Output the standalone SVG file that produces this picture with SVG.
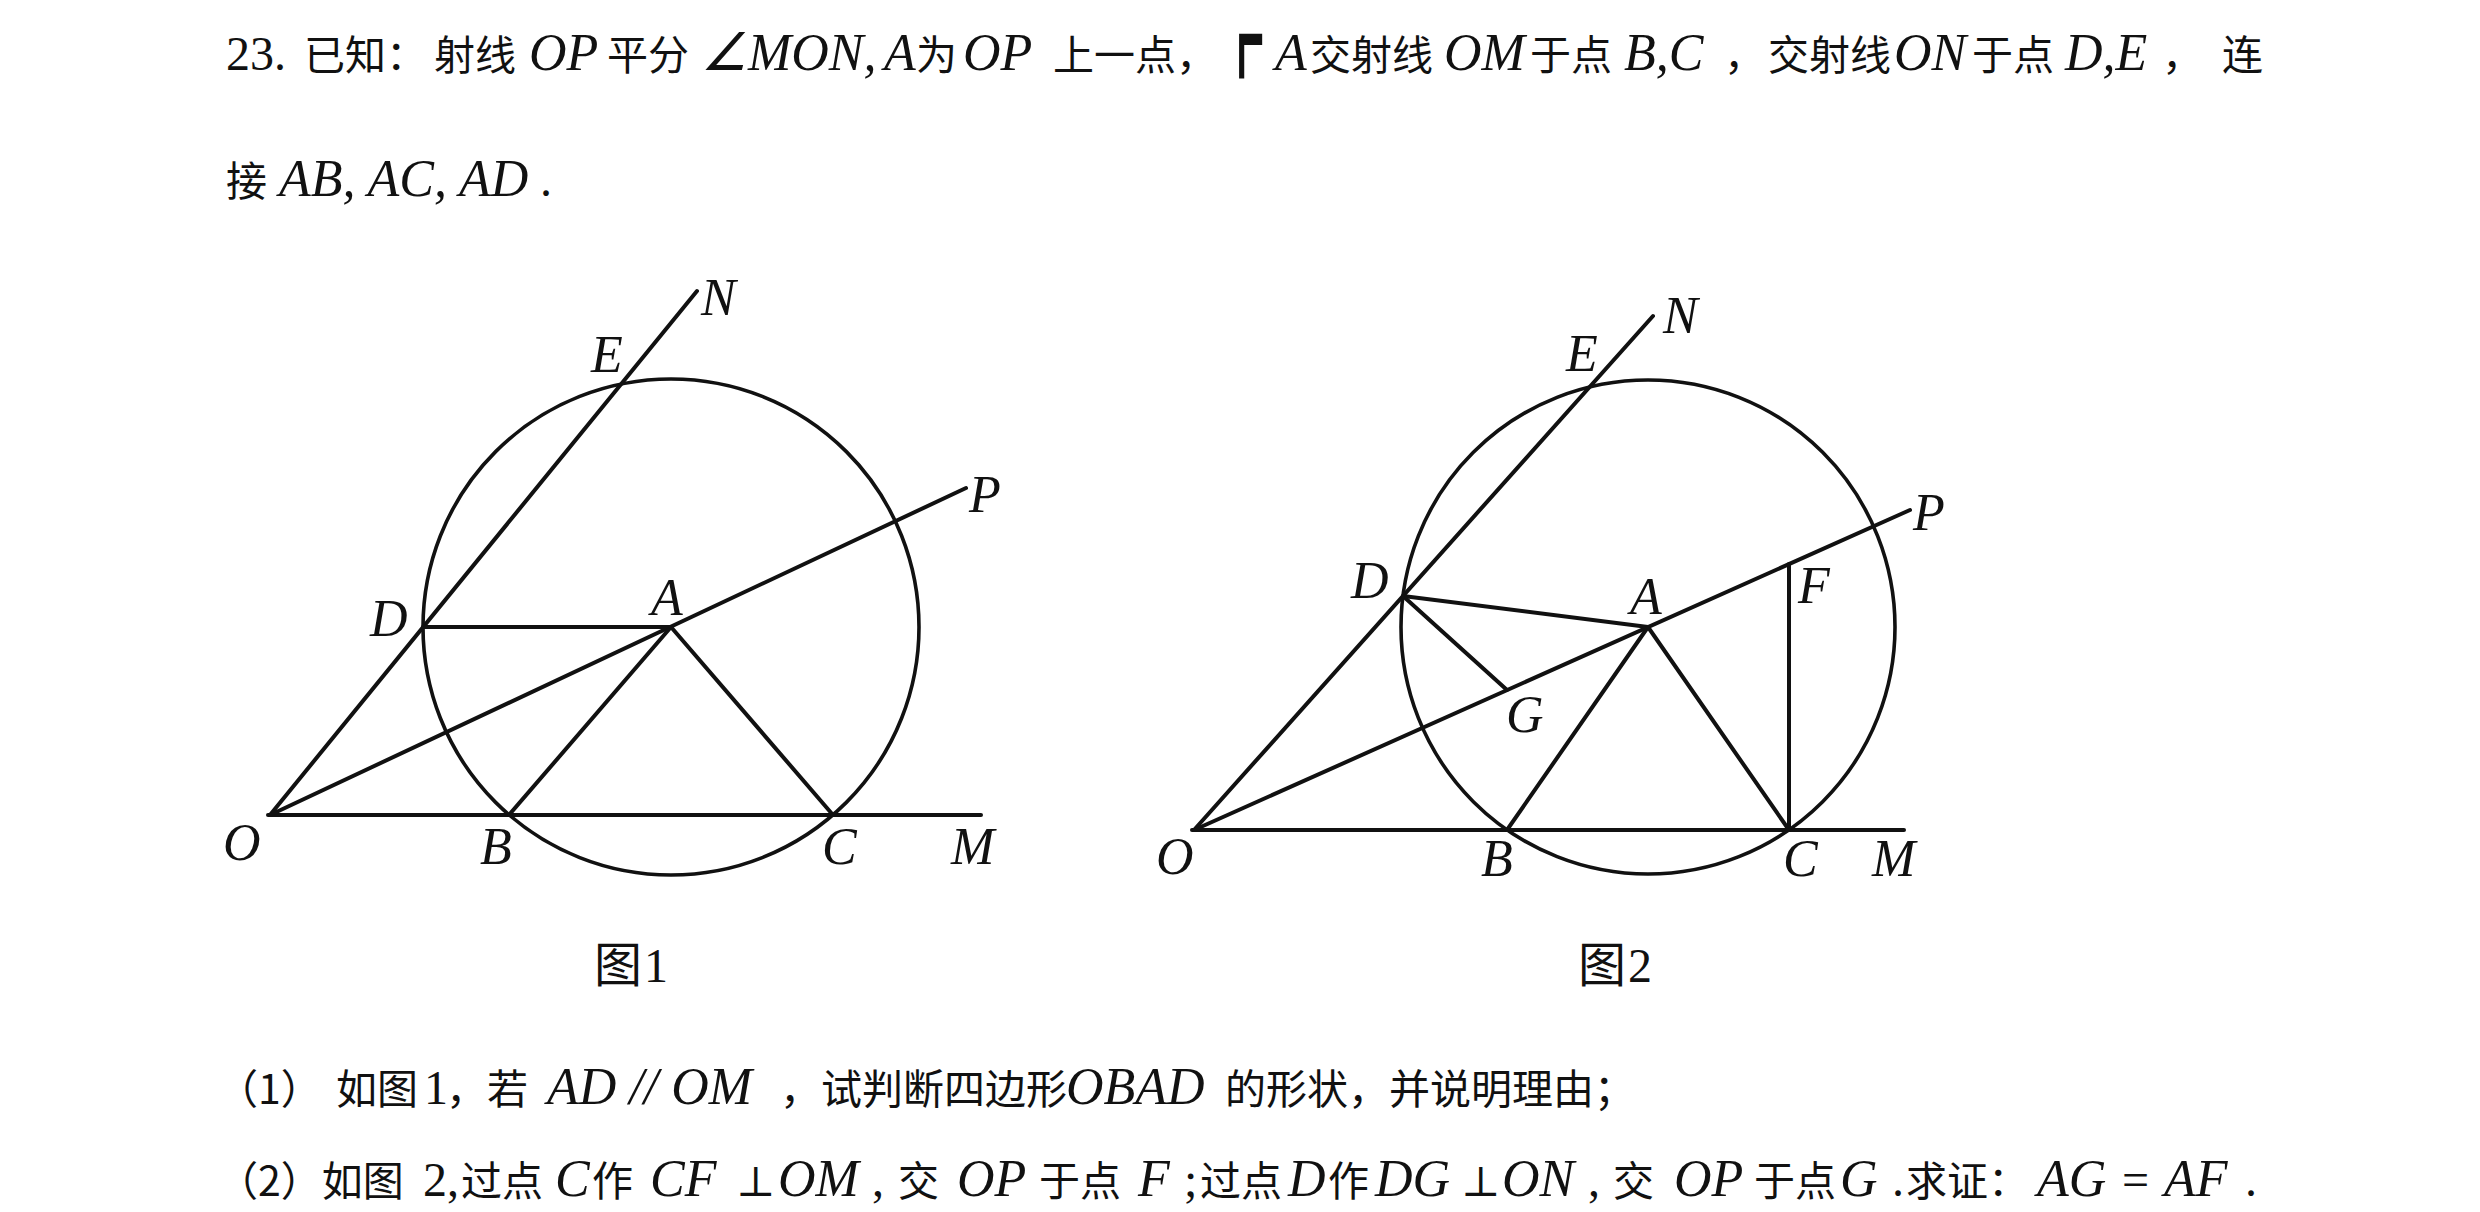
<svg xmlns="http://www.w3.org/2000/svg" width="2480" height="1212" viewBox="0 0 2480 1212">
<style>
.cj{font-family:"Noto Sans CJK SC","Noto Sans CJK JP",sans-serif;font-size:41px;fill:#111}
.cap{font-family:"Noto Sans CJK SC",sans-serif;font-size:48px;fill:#111}
.it{font-family:"Liberation Serif",serif;font-style:italic;font-size:52px;fill:#111}
.rm{font-family:"Liberation Serif",serif;font-size:48px;fill:#111}
.pp{font-family:"DejaVu Serif",serif;font-size:42px;fill:#111}
.lb{font-family:"Liberation Serif",serif;font-style:italic;font-size:52px;fill:#111}
.bx{font-family:"DejaVu Sans Mono",monospace;font-size:66px;fill:#111}
.ln{stroke:#111;stroke-width:4;fill:none;stroke-linecap:round}
.cr{stroke:#111;stroke-width:3.6;fill:none}
</style>
<rect width="2480" height="1212" fill="#fff"/>

<g id="question">
<text class="rm" x="226" y="70">23.</text>
<text class="cj" x="304" y="70">已知：</text>
<text class="cj" x="434" y="70">射线</text>
<text class="it" x="529" y="70">OP</text>
<text class="cj" x="607" y="70">平分</text>
<text class="it" x="701" y="70">∠MON,</text>
<text class="it" x="884" y="70">A</text>
<text class="cj" x="916" y="70">为</text>
<text class="it" x="963" y="70">OP</text>
<text class="cj" x="1053" y="70">上一点，</text>
<text class="bx" x="1222" y="62">┍</text>
<text class="it" x="1275" y="70">A</text>
<text class="cj" x="1310" y="70">交射线</text>
<text class="it" x="1444" y="70">OM</text>
<text class="cj" x="1530" y="70">于点</text>
<text class="it" x="1624" y="70">B,C</text>
<text class="cj" x="1724" y="70">，</text>
<text class="cj" x="1768" y="70">交射线</text>
<text class="it" x="1894" y="70">ON</text>
<text class="cj" x="1972" y="70">于点</text>
<text class="it" x="2065" y="70">D,E</text>
<text class="cj" x="2162" y="70">，</text>
<text class="cj" x="2222" y="70">连</text>
<text class="cj" x="226" y="196">接</text>
<text class="it" x="279" y="196">AB, AC, AD</text>
<text class="rm" x="540" y="196">.</text>
</g>

<g id="connectors" transform="translate(0,-2)">
<g id="fig1-lines">
<line class="ln" x1="268" y1="817" x2="981" y2="817"/>
<line class="ln" x1="270" y1="817" x2="697" y2="293"/>
<line class="ln" x1="270" y1="817" x2="966" y2="490"/>
<line class="ln" x1="423" y1="629" x2="671" y2="629"/>
<line class="ln" x1="671" y1="629" x2="509" y2="817"/>
<line class="ln" x1="671" y1="629" x2="833" y2="817"/>
</g>
<g id="fig2-lines">
<line class="ln" x1="1192" y1="832" x2="1904" y2="832"/>
<line class="ln" x1="1194" y1="832" x2="1653" y2="318"/>
<line class="ln" x1="1194" y1="832" x2="1910" y2="512"/>
<line class="ln" x1="1403" y1="598" x2="1648" y2="629"/>
<line class="ln" x1="1403" y1="598" x2="1507" y2="692"/>
<line class="ln" x1="1648" y1="629" x2="1507" y2="832"/>
<line class="ln" x1="1648" y1="629" x2="1789" y2="832"/>
<line class="ln" x1="1789" y1="832" x2="1789" y2="566"/>
</g>
</g>

<g id="circle1" transform="translate(0,-2)"><circle class="cr" cx="671" cy="629" r="248"/></g>
<g id="circle2" transform="translate(0,-2)"><circle class="cr" cx="1648" cy="629" r="247"/></g>

<g id="fig1-labels" transform="translate(0,-2)">
<g id="f1-N"><text class="lb" x="701" y="317">N</text></g>
<g id="f1-E"><text class="lb" x="591" y="374">E</text></g>
<g id="f1-P"><text class="lb" x="969" y="514">P</text></g>
<g id="f1-A"><text class="lb" x="651" y="617">A</text></g>
<g id="f1-D"><text class="lb" x="370" y="638">D</text></g>
<g id="f1-O"><text class="lb" x="223" y="862">O</text></g>
<g id="f1-B"><text class="lb" x="480" y="866">B</text></g>
<g id="f1-C"><text class="lb" x="822" y="866">C</text></g>
<g id="f1-M"><text class="lb" x="951" y="866">M</text></g>
</g>

<g id="fig2-labels" transform="translate(0,-2)">
<g id="f2-N"><text class="lb" x="1663" y="335">N</text></g>
<g id="f2-E"><text class="lb" x="1566" y="373">E</text></g>
<g id="f2-P"><text class="lb" x="1913" y="532">P</text></g>
<g id="f2-F"><text class="lb" x="1798" y="605">F</text></g>
<g id="f2-D"><text class="lb" x="1351" y="600">D</text></g>
<g id="f2-A"><text class="lb" x="1630" y="616">A</text></g>
<g id="f2-G"><text class="lb" x="1506" y="734">G</text></g>
<g id="f2-O"><text class="lb" x="1156" y="876">O</text></g>
<g id="f2-B"><text class="lb" x="1481" y="878">B</text></g>
<g id="f2-C"><text class="lb" x="1783" y="878">C</text></g>
<g id="f2-M"><text class="lb" x="1872" y="878">M</text></g>
</g>

<g id="captions">
<text class="cap" x="594" y="982">图</text><text class="rm" x="644" y="982">1</text>
<text class="cap" x="1578" y="982">图</text><text class="rm" x="1628" y="982">2</text>
</g>

<g id="part1">
<text class="cj" x="217" y="1104">（1）</text>
<text class="cj" x="336" y="1104">如图</text>
<text class="rm" x="424" y="1104">1</text>
<text class="cj" x="446" y="1104">，</text>
<text class="cj" x="487" y="1104">若</text>
<text class="it" x="547" y="1104">AD // OM</text>
<text class="cj" x="780" y="1104">，试判断四边形</text>
<text class="it" x="1066" y="1104">OBAD</text>
<text class="cj" x="1225" y="1104">的形状，并说明理由；</text>
</g>

<g id="part2">
<text class="cj" x="217" y="1196">（2）如图</text>
<text class="rm" x="423" y="1196">2,</text>
<text class="cj" x="461" y="1196">过点</text>
<text class="it" x="555" y="1196">C</text>
<text class="cj" x="592" y="1196">作</text>
<text class="it" x="650" y="1196">CF</text>
<text class="pp" x="736" y="1196">⊥</text>
<text class="it" x="778" y="1196">OM</text>
<text class="rm" x="872" y="1196">,</text>
<text class="cj" x="898" y="1196">交</text>
<text class="it" x="957" y="1196">OP</text>
<text class="cj" x="1039" y="1196">于点</text>
<text class="it" x="1138" y="1196">F</text>
<text class="rm" x="1184" y="1196">;</text>
<text class="cj" x="1200" y="1196">过点</text>
<text class="it" x="1288" y="1196">D</text>
<text class="cj" x="1328" y="1196">作</text>
<text class="it" x="1375" y="1196">DG</text>
<text class="pp" x="1461" y="1196">⊥</text>
<text class="it" x="1502" y="1196">ON</text>
<text class="rm" x="1588" y="1196">,</text>
<text class="cj" x="1613" y="1196">交</text>
<text class="it" x="1674" y="1196">OP</text>
<text class="cj" x="1754" y="1196">于点</text>
<text class="it" x="1840" y="1196">G</text>
<text class="rm" x="1892" y="1196">.</text>
<text class="cj" x="1906" y="1196">求证：</text>
<text class="it" x="2037" y="1196">AG</text>
<text class="rm" x="2122" y="1196">=</text>
<text class="it" x="2164" y="1196">AF</text>
<text class="rm" x="2245" y="1196">.</text>
</g>
</svg>
